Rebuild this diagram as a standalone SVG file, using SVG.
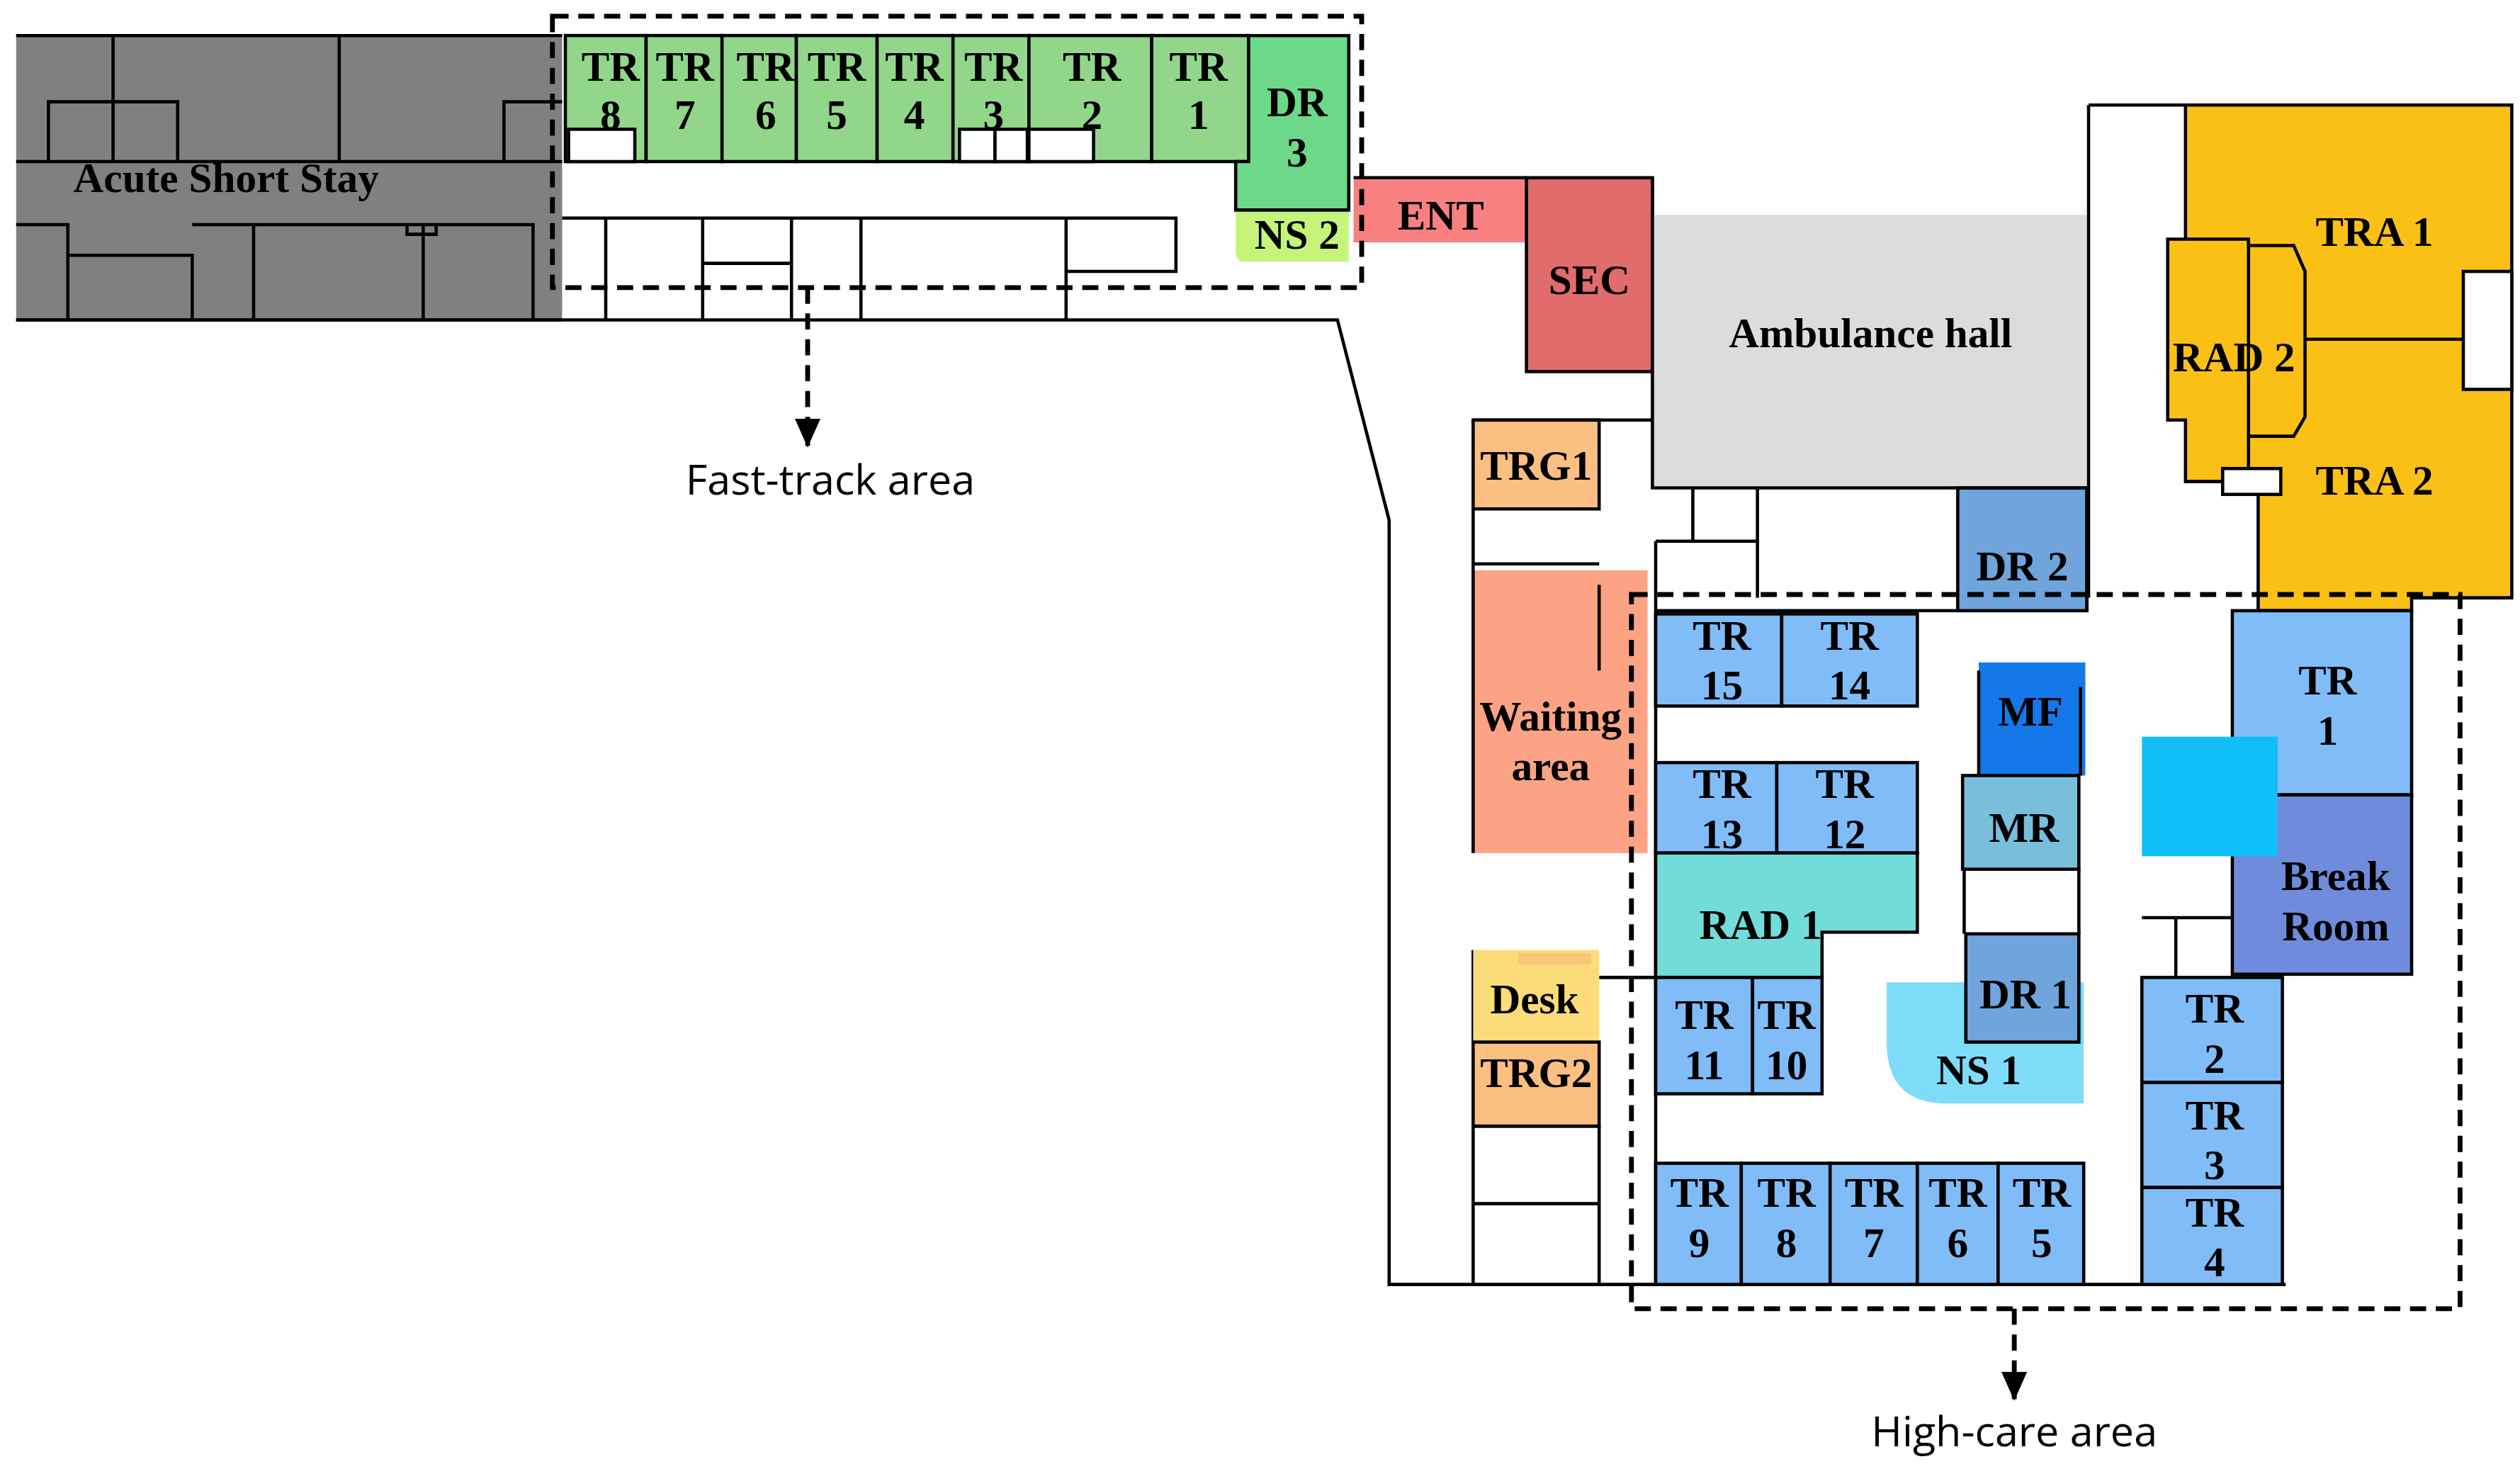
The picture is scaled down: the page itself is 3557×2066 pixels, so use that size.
<svg xmlns="http://www.w3.org/2000/svg" width="3557" height="2066" viewBox="0 0 3557 2066">
<style>
.w{stroke:#000;stroke-width:2;fill:none}
.r{stroke:#000;stroke-width:2}
.t{font-family:"Liberation Serif",serif;font-weight:bold;font-size:26px;text-anchor:middle;fill:#000}
.s{font-family:"Open Sans","Liberation Sans",sans-serif;font-size:26px;text-anchor:middle;fill:#000}
.d{stroke:#000;stroke-width:3;stroke-dasharray:10,6;fill:none}
.g{fill:#92d68c}
.b{fill:#80bcf8}
</style>
<defs><marker id="ah" markerWidth="18" markerHeight="16" refX="17" refY="8" orient="auto" markerUnits="userSpaceOnUse"><path d="M0,0 L18,8 L0,16 Z" fill="#000"/></marker></defs>
<rect width="3557" height="2066" fill="#fff"/>
<g transform="scale(2.28)">
<g id="acute-short-stay">
<rect x="10" y="22" width="338" height="176" fill="#808080"/>
<path class="w" d="M10,22 H348 M10,100 H348 M10,198 H348 M70,22 V100 M210,22 V100 M30,100 V63 H110 V100 M312,100 V63 H348 M10,139 H42 V158 H119 V198 M42,139 V198 M119,139 H330 V198 M157,139 V198 M262,139 V198 M252,139 V145 H270 V139"/>
<text class="t" x="140" y="119">Acute Short Stay</text>
</g>
<g id="fast-track-rooms">
<rect class="g r" x="350" y="22" width="50" height="78"/>
<rect class="g r" x="400" y="22" width="47" height="78"/>
<rect class="g r" x="447" y="22" width="46" height="78"/>
<rect class="g r" x="493" y="22" width="50" height="78"/>
<rect class="g r" x="543" y="22" width="47" height="78"/>
<rect class="g r" x="590" y="22" width="47" height="78"/>
<rect class="g r" x="637" y="22" width="76" height="78"/>
<rect class="g r" x="713" y="22" width="60" height="78"/>
<rect x="352" y="80" width="41" height="20" fill="#fff" class="r"/>
<rect x="594" y="80" width="22" height="20" fill="#fff" class="r"/>
<rect x="616" y="80" width="20" height="20" fill="#fff" class="r"/>
<rect x="637" y="80" width="40" height="20" fill="#fff" class="r"/>
<text class="t" x="378" y="50">TR</text><text class="t" x="378" y="80">8</text>
<text class="t" x="424" y="50">TR</text><text class="t" x="424" y="80">7</text>
<text class="t" x="474" y="50">TR</text><text class="t" x="474" y="80">6</text>
<text class="t" x="518" y="50">TR</text><text class="t" x="518" y="80">5</text>
<text class="t" x="566" y="50">TR</text><text class="t" x="566" y="80">4</text>
<text class="t" x="615" y="50">TR</text><text class="t" x="615" y="80">3</text>
<text class="t" x="676" y="50">TR</text><text class="t" x="676" y="80">2</text>
<text class="t" x="742" y="50">TR</text><text class="t" x="742" y="80">1</text>
</g>
<g id="dr3"><path d="M773,22 H835 V130 H765 V100 H773 Z" fill="#6cd98a" class="r"/><text class="t" x="803" y="72">DR</text><text class="t" x="803" y="103">3</text></g>
<g id="ns2"><path d="M765,130 H835 V162 H770 Q765,162 765,155 Z" fill="#c4f57a"/><path class="w" d="M765,130 H835"/><text class="t" x="803" y="154">NS 2</text></g>
<g id="lower-rooms"><path class="w" d="M348,135 H728 V168 H660 M375,135 V198 M435,135 V198 M490,135 V198 M533,135 V198 M660,135 V198 M435,163 H490"/></g>
<g id="ent"><rect x="838" y="110" width="107" height="40" fill="#f98080"/><path class="w" d="M838,110 H945"/><text class="t" x="892" y="142">ENT</text></g>
<g id="sec"><rect class="r" x="945" y="110" width="78" height="120" fill="#e06c6c"/><text class="t" x="984" y="182">SEC</text></g>
<g id="ambulance-hall"><rect x="1023" y="133" width="269" height="169" fill="#dcdcdc"/><text class="t" x="1158" y="215">Ambulance hall</text></g>
<g id="trauma">
<path class="w" d="M1293,65 H1353 M1293,65 V370"/>
<path d="M1353,65 H1555 V370 H1493 V378 H1398 V298 H1353 V260 H1342 V148 H1353 Z" fill="#fbc016" class="r"/>
<path class="w" d="M1353,148 H1392 V300 M1392,152 H1420 L1427,168 V258 L1420,270 H1392 M1427,210 H1525 M1353,298 H1376"/>
<rect x="1525" y="168" width="30" height="73" fill="#fff" class="r"/>
<rect x="1376" y="290" width="36" height="16" fill="#fff" class="r"/>
<text class="t" x="1470" y="152">TRA 1</text>
<text class="t" x="1383" y="230">RAD 2</text>
<text class="t" x="1470" y="306">TRA 2</text>
</g>
<g id="dr2"><rect class="r" x="1212" y="302" width="80" height="76" fill="#6fa4dc"/><text class="t" x="1252" y="359">DR 2</text></g>
<g id="walls"><path class="w" d="M10,198 H828 L860,322 V795 H1415 M1023,110 V302 H1292 V378 M912,260 H1023 M912,260 V528 M912,588 V795 M912,349 H990 M990,697 V795 M912,745 H990 M912,697 H990 M990,605 H1025 M1048,302 V335 M1088,302 V370 M1025,335 H1088 M1025,335 V795 M1025,378 H1212 M1216,538 V578 M1287,538 V578 M1326,568 H1382 M1347,568 V605"/></g>
<g id="trg1"><rect class="r" x="912" y="260" width="78" height="55" fill="#fbbf82"/><text class="t" x="951" y="297">TRG1</text></g>
<g id="waiting"><rect x="912" y="353" width="108" height="175" fill="#fca385"/><path class="w" d="M912,353 V528 M990,362 V415"/><text class="t" x="960" y="452">Waiting</text><text class="t" x="960" y="483">area</text></g>
<g id="desk"><rect x="912" y="588" width="78" height="57" fill="#fcdc78"/><rect x="940" y="590" width="45" height="7" fill="#f8c878"/><text class="t" x="950" y="627">Desk</text></g>
<g id="trg2"><rect class="r" x="912" y="645" width="78" height="52" fill="#fbbf82"/><text class="t" x="951" y="673">TRG2</text></g>
<g id="tr15-14"><rect class="r b" x="1025" y="380" width="78" height="57"/><rect class="r b" x="1103" y="380" width="84" height="57"/><text class="t" x="1066" y="402">TR</text><text class="t" x="1066" y="433">15</text><text class="t" x="1145" y="402">TR</text><text class="t" x="1145" y="433">14</text></g>
<g id="tr13-12"><rect class="r b" x="1025" y="472" width="75" height="56"/><rect class="r b" x="1100" y="472" width="87" height="56"/><text class="t" x="1066" y="494">TR</text><text class="t" x="1066" y="525">13</text><text class="t" x="1142" y="494">TR</text><text class="t" x="1142" y="525">12</text></g>
<g id="rad1"><path class="r" d="M1025,528 H1187 V577 H1128 V605 H1025 Z" fill="#72dcd8"/><text class="t" x="1090" y="581">RAD 1</text></g>
<g id="tr11-10"><rect class="r b" x="1025" y="605" width="60" height="72"/><rect class="r b" x="1085" y="605" width="43" height="72"/><text class="t" x="1055" y="637">TR</text><text class="t" x="1055" y="668">11</text><text class="t" x="1106" y="637">TR</text><text class="t" x="1106" y="668">10</text></g>
<g id="tr9-5">
<rect class="r b" x="1025" y="720" width="53" height="75"/><rect class="r b" x="1078" y="720" width="55" height="75"/><rect class="r b" x="1133" y="720" width="54" height="75"/><rect class="r b" x="1187" y="720" width="50" height="75"/><rect class="r b" x="1237" y="720" width="53" height="75"/>
<text class="t" x="1052" y="747">TR</text><text class="t" x="1052" y="778">9</text>
<text class="t" x="1106" y="747">TR</text><text class="t" x="1106" y="778">8</text>
<text class="t" x="1160" y="747">TR</text><text class="t" x="1160" y="778">7</text>
<text class="t" x="1212" y="747">TR</text><text class="t" x="1212" y="778">6</text>
<text class="t" x="1264" y="747">TR</text><text class="t" x="1264" y="778">5</text>
</g>
<g id="mf"><rect x="1225" y="410" width="66" height="70" fill="#1478e8"/><path class="w" d="M1225,415 V480 M1288,425 V480"/><text class="t" x="1257" y="449">MF</text></g>
<g id="mr"><rect class="r" x="1215" y="480" width="72" height="58" fill="#78bfdc"/><text class="t" x="1253" y="521">MR</text></g>
<g id="ns1"><path d="M1168,608 H1290 V683 H1205 Q1168,683 1168,645 Z" fill="#7fdcf8"/><text class="t" x="1225" y="671">NS 1</text></g>
<g id="dr1"><rect class="r" x="1217" y="578" width="70" height="67" fill="#6fa4dc"/><text class="t" x="1254" y="624">DR 1</text></g>
<g id="tr1"><rect class="r b" x="1382" y="378" width="111" height="114"/><text class="t" x="1441" y="430">TR</text><text class="t" x="1441" y="461">1</text></g>
<g id="break-room"><rect class="r" x="1382" y="492" width="111" height="111" fill="#6f8cdc"/><text class="t" x="1446" y="551">Break</text><text class="t" x="1446" y="582">Room</text></g>
<g id="cyan-room"><rect x="1326" y="456" width="84" height="74" fill="#10bff8"/></g>
<g id="tr2-4">
<rect class="r b" x="1326" y="605" width="87" height="65"/><rect class="r b" x="1326" y="670" width="87" height="65"/><rect class="r b" x="1326" y="735" width="87" height="60"/>
<text class="t" x="1371" y="633">TR</text><text class="t" x="1371" y="664">2</text>
<text class="t" x="1371" y="699">TR</text><text class="t" x="1371" y="730">3</text>
<text class="t" x="1371" y="759">TR</text><text class="t" x="1371" y="790">4</text>
</g>
<g id="connectors">
<rect class="d" x="342" y="10" width="501" height="168"/>
<rect class="d" x="1010" y="368" width="513" height="442"/>
<path class="d" d="M500,178 V276" marker-end="url(#ah)"/>
<path class="d" d="M1247,810 V866" marker-end="url(#ah)"/>
</g>
<g id="labels">
<text class="s" x="514" y="306">Fast-track area</text>
<text class="s" x="1247" y="895">High-care area</text>
</g>
</g>
</svg>
